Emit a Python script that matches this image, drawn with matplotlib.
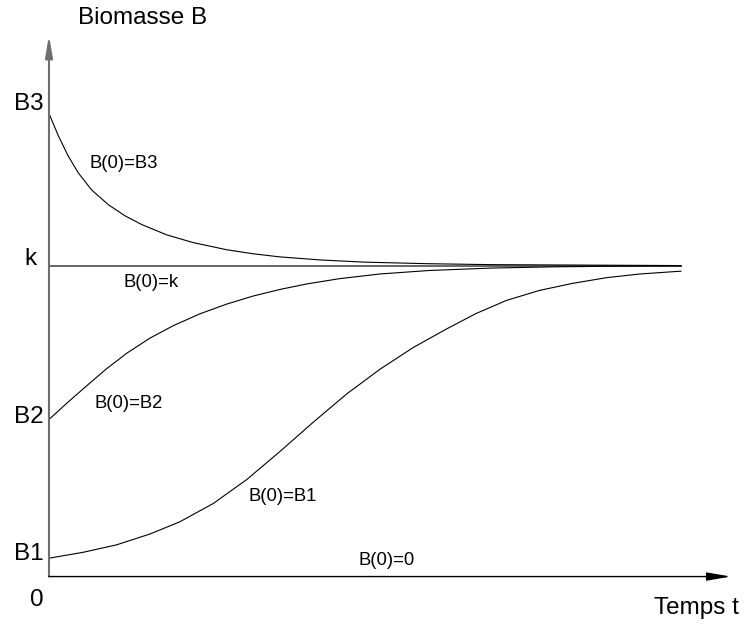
import matplotlib
matplotlib.use('Agg')
import matplotlib.pyplot as plt

plt.rcParams['font.family'] = ['Liberation Sans', 'DejaVu Sans']

# values (k = 1, time in arbitrary units)
k = 1.0
t_end = 10.0

t_b3 = [0, 0.147, 0.305, 0.464, 0.676, 0.938, 1.203, 1.467, 1.86, 2.28, 2.81, 3.23, 3.65, 4.3, 5.0, 6.0,
        7.0, 8.0, 9.0, 10.0]
b_b3 = [1.489, 1.418, 1.352, 1.298, 1.243, 1.196, 1.160, 1.132, 1.099, 1.074, 1.051, 1.038, 1.028, 1.018,
        1.011, 1.006, 1.003, 1.002, 1.001, 1.0]

t_b2 = [0, 0.28, 0.6, 0.91, 1.23, 1.6, 1.97, 2.39, 2.81, 3.23, 3.65, 4.08, 4.6, 5.24, 6.0, 7.0, 8.0, 9.0, 10.0]
b_b2 = [0.505, 0.557, 0.614, 0.668, 0.718, 0.767, 0.807, 0.845, 0.876, 0.902, 0.923, 0.941, 0.958, 0.973,
        0.984, 0.992, 0.996, 0.998, 0.999]

t_b1 = [0, 0.54, 1.07, 1.6, 2.07, 2.6, 3.13, 3.66, 4.18, 4.71, 5.24, 5.76, 6.29, 6.76, 7.24, 7.76, 8.29,
        8.82, 9.35, 10.0]
b_b1 = [0.059, 0.078, 0.102, 0.137, 0.176, 0.235, 0.312, 0.403, 0.496, 0.587, 0.667, 0.736, 0.796, 0.846,
        0.888, 0.920, 0.943, 0.961, 0.973, 0.982]

y_ticks = ['B3', 'k', 'B2', 'B1', '0']

fig = plt.figure(figsize=(7.46, 6.26), dpi=100)
ax = fig.add_axes([0, 0, 1, 1])
ax.set_xlim(-0.775, 11.03)
ax.set_ylim(-0.159, 1.854)
ax.axis('off')

# axes as arrows
ax.annotate('', xy=(0, 1.741), xytext=(0, 0),
            arrowprops=dict(arrowstyle='-|>,head_length=1.3,head_width=0.22', mutation_scale=10,
                            color='#6e6e6e', lw=1.5, shrinkA=0, shrinkB=0))
ax.annotate('', xy=(10.79, 0), xytext=(0, 0),
            arrowprops=dict(arrowstyle='-|>,head_length=1.45,head_width=0.25', mutation_scale=10,
                            color='black', lw=1.0, shrinkA=0, shrinkB=0))

# equilibrium and solutions
ax.plot([0, t_end], [k, k], color='#5a5a5a', lw=1.3)
for tt, bb in [(t_b3, b_b3), (t_b2, b_b2), (t_b1, b_b1)]:
    ax.plot(tt, bb, color='black', lw=0.8, solid_joinstyle='round')

big = 17.5
small = 13.3
ax.text(-0.08, 1.519, y_ticks[0], ha='right', va='center', fontsize=big)
ax.text(-0.29, 1.021, y_ticks[1], ha='center', va='center', fontsize=big)
ax.text(-0.08, 0.513, y_ticks[2], ha='right', va='center', fontsize=big)
ax.text(-0.08, 0.071, y_ticks[3], ha='right', va='center', fontsize=big)
ax.text(-0.2, -0.076, y_ticks[4], ha='center', va='center', fontsize=big)

ax.text(1.479, 1.796, 'Biomasse B', ha='center', va='center', fontsize=big)
ax.text(10.24, -0.10, 'Temps t', ha='center', va='center', fontsize=big)

ax.text(1.179, 1.329, 'B(0)=B3', ha='center', va='center', fontsize=small)
ax.text(1.614, 0.944, 'B(0)=k', ha='center', va='center', fontsize=small)
ax.text(1.258, 0.555, 'B(0)=B2', ha='center', va='center', fontsize=small)
ax.text(3.703, 0.256, 'B(0)=B1', ha='center', va='center', fontsize=small)
ax.text(5.34, 0.053, 'B(0)=0', ha='center', va='center', fontsize=small)

fig.savefig('out.png', dpi=100)
